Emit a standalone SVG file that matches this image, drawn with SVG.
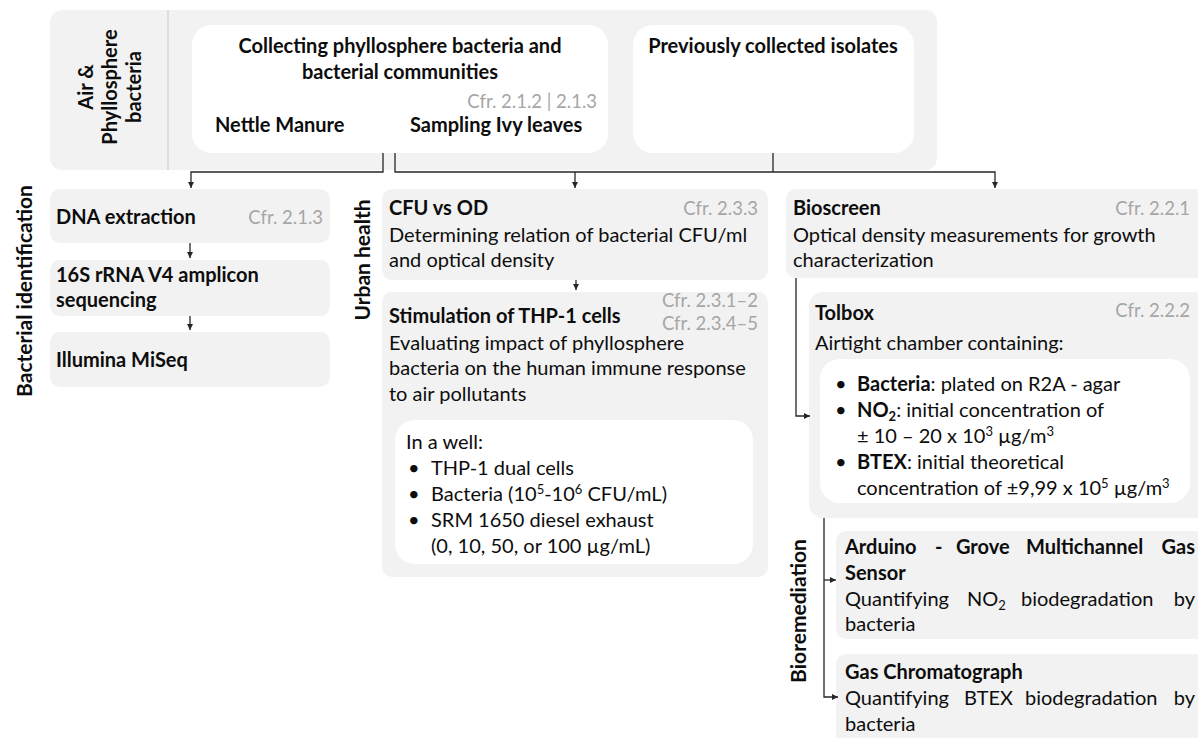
<svg xmlns="http://www.w3.org/2000/svg" width="1198" height="738" viewBox="0 0 1198 738">
<defs>
<style>
text{font-family:Lato,"Open Sans","Liberation Sans",sans-serif;font-size:20px;fill:#0d0d0d}
.b{font-weight:bold}
.c{fill:#a6a6a6;font-size:18.5px}
.m{text-anchor:middle}
.e{text-anchor:end}
.g{fill:#f2f2f2}
.w{fill:#ffffff}
.conn{stroke:#262626;stroke-width:1.3;fill:none}
.arr{marker-end:url(#ah)}
.div{stroke:#c8c8c8;stroke-width:1}
.sm{font-size:13px}
.lab{font-size:21px}
</style>
<marker id="ah" viewBox="0 0 6 6" refX="6" refY="3" markerWidth="6" markerHeight="6" markerUnits="userSpaceOnUse" orient="auto">
<path d="M0,0 L6,3 L0,6 z" fill="#262626"/>
</marker>
</defs>

<g id="top-panel">
<rect class="g" x="50" y="10" width="887" height="160" rx="12"/>
<line class="div" x1="168" y1="10" x2="168" y2="170"/>
<text class="b m" transform="translate(93,87) rotate(-90)">Air &amp;</text>
<text class="b m" transform="translate(117,87) rotate(-90)">Phyllosphere</text>
<text class="b m" transform="translate(141,87) rotate(-90)">bacteria</text>
</g>

<g id="collecting">
<rect class="w" x="192" y="25" width="416" height="128" rx="20"/>
<text class="b m" x="400" y="53">Collecting phyllosphere bacteria and</text>
<text class="b m" x="400" y="79">bacterial communities</text>
<text class="c e" x="597" y="108">Cfr. 2.1.2 | 2.1.3</text>
<text class="b" x="215" y="132">Nettle Manure</text>
<text class="b" x="410" y="132">Sampling Ivy leaves</text>
</g>

<g id="previously">
<rect class="w" x="633" y="25" width="281" height="128" rx="20"/>
<text class="b m" x="773" y="53">Previously collected isolates</text>
</g>

<g id="label-bacterial-identification">
<text class="b m lab" transform="translate(32,291) rotate(-90)">Bacterial identification</text>
</g>

<g id="dna">
<rect class="g" x="50" y="189" width="280" height="54" rx="10"/>
<text class="b" x="56" y="224">DNA extraction</text>
<text class="c e" x="323" y="224">Cfr. 2.1.3</text>
</g>

<g id="rrna">
<rect class="g" x="50" y="260" width="280" height="56" rx="10"/>
<text class="b" x="56" y="282">16S rRNA V4 amplicon</text>
<text class="b" x="56" y="307">sequencing</text>
</g>

<g id="illumina">
<rect class="g" x="50" y="332" width="280" height="55" rx="10"/>
<text class="b" x="56" y="367">Illumina MiSeq</text>
</g>

<g id="label-urban-health">
<text class="b m lab" transform="translate(370,260) rotate(-90)">Urban health</text>
</g>

<g id="cfu">
<rect class="g" x="382" y="189" width="386" height="91" rx="10"/>
<text class="b" x="389" y="215">CFU vs OD</text>
<text class="c e" x="758" y="215">Cfr. 2.3.3</text>
<text x="389" y="242">Determining relation of bacterial CFU/ml</text>
<text x="389" y="267">and optical density</text>
</g>

<g id="thp1">
<rect class="g" x="382" y="292" width="386" height="285" rx="10"/>
<text class="c e" x="758" y="307">Cfr. 2.3.1–2</text>
<text class="b" x="389" y="323">Stimulation of THP-1 cells</text>
<text class="c e" x="758" y="330">Cfr. 2.3.4–5</text>
<text x="389" y="350">Evaluating impact of phyllosphere</text>
<text x="389" y="375">bacteria on the human immune response</text>
<text x="389" y="401">to air pollutants</text>
<rect class="w" x="395" y="420" width="358" height="144" rx="20"/>
<text x="406" y="449">In a well:</text>
<text x="408" y="475">•</text><text x="431" y="475">THP-1 dual cells</text>
<text x="408" y="501">•</text><text x="431" y="501">Bacteria (10<tspan class="sm" dy="-7">5</tspan><tspan dy="7">-10</tspan><tspan class="sm" dy="-7">6</tspan><tspan dy="7"> CFU/mL)</tspan></text>
<text x="408" y="527">•</text><text x="431" y="527">SRM 1650 diesel exhaust</text>
<text x="431" y="553">(0, 10, 50, or 100 µg/mL)</text>
</g>

<g id="bioscreen">
<rect class="g" x="786" y="189" width="420" height="89" rx="10"/>
<text class="b" x="793" y="215">Bioscreen</text>
<text class="c e" x="1190" y="215">Cfr. 2.2.1</text>
<text x="793" y="242">Optical density measurements for growth</text>
<text x="793" y="267">characterization</text>
</g>

<g id="tolbox">
<rect class="g" x="809" y="292" width="400" height="226" rx="14"/>
<text class="b" x="815" y="320">Tolbox</text>
<text class="c e" x="1190" y="317">Cfr. 2.2.2</text>
<text x="815" y="350">Airtight chamber containing:</text>
<rect class="w" x="820" y="359" width="370" height="144" rx="20"/>
<text x="835" y="391">•</text><text x="857" y="391"><tspan class="b">Bacteria</tspan>: plated on R2A - agar</text>
<text x="835" y="417">•</text><text x="857" y="417"><tspan class="b">NO</tspan><tspan class="b sm" dy="4">2</tspan><tspan dy="-4">: initial concentration of</tspan></text>
<text x="857" y="443">± 10 – 20 x 10<tspan class="sm" dy="-7">3</tspan><tspan dy="7"> µg/m</tspan><tspan class="sm" dy="-7">3</tspan></text>
<text x="835" y="469">•</text><text x="857" y="469"><tspan class="b">BTEX</tspan>: initial theoretical</text>
<text x="857" y="495">concentration of ±9,99 x 10<tspan class="sm" dy="-7">5</tspan><tspan dy="7"> µg/m</tspan><tspan class="sm" dy="-7">3</tspan></text>
</g>

<g id="label-bioremediation">
<text class="b m lab" transform="translate(806,611) rotate(-90)">Bioremediation</text>
</g>

<g id="arduino">
<rect class="g" x="836" y="531" width="370" height="108" rx="10"/>
<text class="b" y="554"><tspan x="845">Arduino</tspan><tspan x="935">-</tspan><tspan x="956">Grove</tspan><tspan x="1026">Multichannel</tspan></text>
<text class="b e" x="1195" y="554">Gas</text>
<text class="b" x="845" y="580">Sensor</text>
<text y="606"><tspan x="845">Quantifying</tspan><tspan x="967">NO</tspan><tspan class="sm" dy="4">2</tspan><tspan x="1021" dy="-4">biodegradation</tspan></text>
<text class="e" x="1195" y="606">by</text>
<text x="845" y="631">bacteria</text>
</g>

<g id="gas-chromatograph">
<rect class="g" x="836" y="654" width="370" height="100" rx="10"/>
<text class="b" x="845" y="679">Gas Chromatograph</text>
<text y="705"><tspan x="845">Quantifying</tspan><tspan x="964">BTEX</tspan><tspan x="1025">biodegradation</tspan></text>
<text class="e" x="1195" y="705">by</text>
<text x="845" y="731">bacteria</text>
</g>

<g id="connectors">
<path class="conn arr" d="M383,153 V172 H191 V188"/>
<path class="conn arr" d="M395,153 V172 H995 V188"/>
<path class="conn" d="M773,153 V172"/>
<path class="conn arr" d="M575,172 V188"/>
<path class="conn arr" d="M190,243 V258"/>
<path class="conn arr" d="M190,316 V330"/>
<path class="conn arr" d="M576,280 V290"/>
<path class="conn arr" d="M796,278 V416 H810"/>
<path class="conn arr" d="M824,518 V697 H838"/>
<path class="conn arr" d="M824,580 H836"/>
</g>
</svg>
